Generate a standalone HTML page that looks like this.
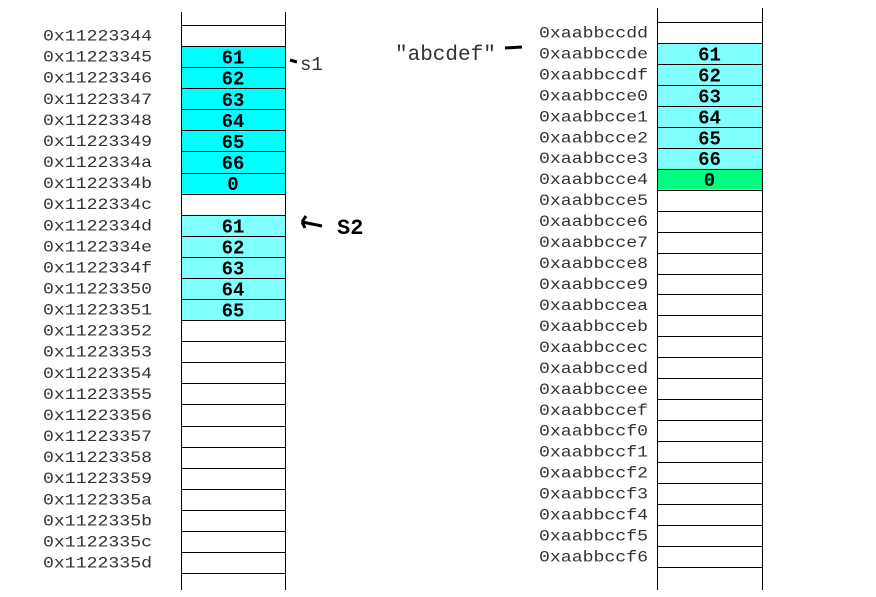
<!DOCTYPE html>
<html><head><meta charset="utf-8"><style>
html,body{margin:0;padding:0;background:#fff}
svg{display:block}
text{font-family:"Liberation Mono",monospace}
</style></head><body>
<svg id="c" width="876" height="597" viewBox="0 0 876 597">
<g id="left"></g><g id="right"></g>
<text x="300" y="70" font-size="19" fill="#333" font-family="Liberation Serif,serif">s1</text>
<line x1="290" y1="60" x2="297" y2="62" stroke="#000" stroke-width="3"/>
<text x="337" y="234" font-size="22" font-weight="bold" fill="#000" font-family="Liberation Sans,sans-serif">S2</text>
<path d="M302 222 L322 226 M302 222 L306 216 M302 222 L305 228" stroke="#000" stroke-width="3" fill="none"/>
<text x="395" y="60" font-size="21" fill="#333" font-family="Liberation Serif,serif">"abcdef"</text>
<line x1="505" y1="48" x2="522" y2="47" stroke="#000" stroke-width="3"/>
</svg>
<script>
const leftAddrs = ["0x11223344","0x11223345","0x11223346","0x11223347","0x11223348","0x11223349","0x1122334a","0x1122334b","0x1122334c","0x1122334d","0x1122334e","0x1122334f","0x11223350","0x11223351","0x11223352","0x11223353","0x11223354","0x11223355","0x11223356","0x11223357","0x11223358","0x11223359","0x1122335a","0x1122335b","0x1122335c","0x1122335d"];
const leftVals = ["","61","62","63","64","65","66","0","","61","62","63","64","65","","","","","","","","","","","",""];
const leftFill = ["","#00ffff","#00ffff","#00ffff","#00ffff","#00ffff","#00ffff","#00ffff","","#80ffff","#80ffff","#80ffff","#80ffff","#80ffff","","","","","","","","","","","",""];
const rightAddrs = ["0xaabbccdd","0xaabbccde","0xaabbccdf","0xaabbcce0","0xaabbcce1","0xaabbcce2","0xaabbcce3","0xaabbcce4","0xaabbcce5","0xaabbcce6","0xaabbcce7","0xaabbcce8","0xaabbcce9","0xaabbccea","0xaabbcceb","0xaabbccec","0xaabbcced","0xaabbccee","0xaabbccef","0xaabbccf0","0xaabbccf1","0xaabbccf2","0xaabbccf3","0xaabbccf4","0xaabbccf5","0xaabbccf6"];
const rightVals = ["","61","62","63","64","65","66","0","","","","","","","","","","","","","","","","","",""];
const rightFill = ["","#80ffff","#80ffff","#80ffff","#80ffff","#80ffff","#80ffff","#00ff80","","","","","","","","","","","","","","","","","",""];
const NS="http://www.w3.org/2000/svg";
function mk(tag,attrs,parent){const e=document.createElementNS(NS,tag);for(const k in attrs)e.setAttribute(k,attrs[k]);parent.appendChild(e);return e;}
function col(g,addrs,vals,fills,x0,x1,top,y0,pitch,labelX,bottom,name){
  addrs.forEach((a,i)=>{
    const y=y0+i*pitch;
    if(fills[i]){const r=mk('rect',{x:x0,y:y,width:x1-x0,height:pitch,fill:fills[i]},g);
      
      }
    const t=mk('text',{x:labelX,y:y+pitch/2+5,'font-size':16,fill:'#333',textLength:109,lengthAdjust:'spacingAndGlyphs'},g);
    t.textContent=a;
    
    
    if(vals[i]){const v=mk('text',{x:(x0+x1)/2,y:y+pitch/2+7,'font-size':19,'font-weight':'bold','text-anchor':'middle',fill:'#000','font-family':'Liberation Sans,sans-serif'},g);
      v.textContent=vals[i];
      
      }
  });
  for(let i=0;i<=addrs.length;i++){const y=Math.round(y0+i*pitch)+0.5;
    const l=mk('line',{x1:x0,x2:x1,y1:y,y2:y,stroke:'#000'},g);
    
    }
  [x0,x1].forEach(x=>{const l=mk('line',{x1:x+0.5,x2:x+0.5,y1:top,y2:bottom,stroke:'#000'},g);
    
    });
}
col(document.getElementById('left'),leftAddrs,leftVals,leftFill,181,285,12,25,21.08,43,590,'left');
col(document.getElementById('right'),rightAddrs,rightVals,rightFill,657,762,8,22,20.96,539,590,'right');
</script>
</body></html>
